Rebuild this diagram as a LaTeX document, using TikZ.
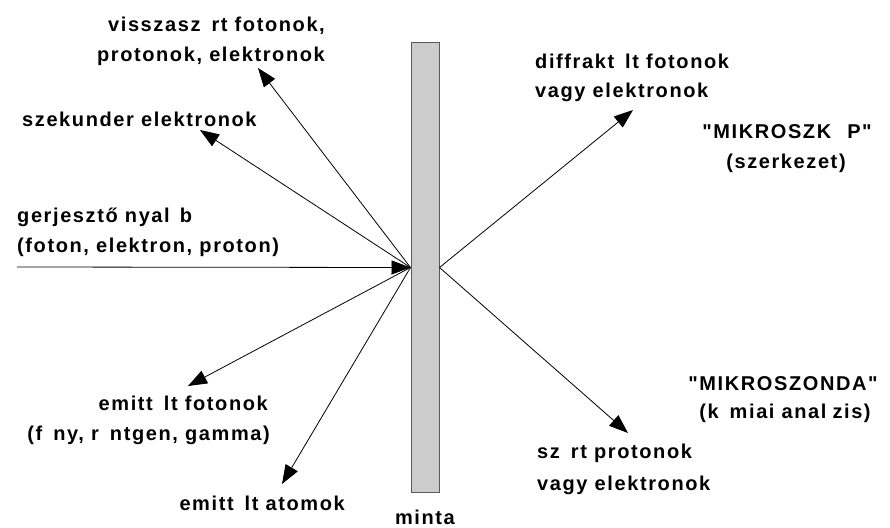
\documentclass[tikz,border=0pt]{standalone}
\usepackage{fontspec}
\setmainfont{Liberation Sans}[LetterSpace=8,Ligatures=TeXOff]
\usetikzlibrary{arrows.meta}
\definecolor{samplefill}{RGB}{204,204,204}
\definecolor{sampleedge}{RGB}{90,90,90}
\begin{document}
\begin{tikzpicture}[x=1pt,y=-1pt,
  lbl/.style={inner sep=0pt,font=\fontsize{20}{23}\selectfont\bfseries},
  ray/.style={line width=0.8pt,-{Triangle[length=19pt,width=14pt]}}]
\useasboundingbox (0,0) rectangle (890,527);
% sample
\node[draw=sampleedge,fill=samplefill,line width=1pt,minimum width=28pt,minimum height=449pt,inner sep=0pt] (sample) at (425,267.5) {};
\coordinate (src) at (17,267);
\coordinate (tA) at (258,68);
\coordinate (tB) at (200,130);
\coordinate (tC) at (188,386);
\coordinate (tD) at (282,484);
\coordinate (tE) at (633,110);
\coordinate (tF) at (628,433);
% rays
\draw[ray] (src) -- (sample.west);
\draw[ray] (sample.west) -- (tA);
\draw[ray] (sample.west) -- (tB);
\draw[ray] (sample.west) -- (tC);
\draw[ray] (sample.west) -- (tD);
\draw[ray] (sample.east) -- (tE);
\draw[ray] (sample.east) -- (tF);
% labels
\node[lbl,anchor=base east] (a1) at (325,32) {visszasz\hspace{0.55em}rt fotonok,};
\node[lbl,anchor=base east] (a2) at (325,62) {protonok, elektronok};
\node[lbl,anchor=base west] (b1) at (22,126) {szekunder elektronok};
\node[lbl,anchor=base west] (c1) at (17,222) {gerjesztő nyal\hspace{0.5em}b};
\node[lbl,anchor=base west] (c2) at (17,252) {(foton, elektron, proton)};
\node[lbl,anchor=base east] (d1) at (268,410) {emitt\hspace{0.55em}lt fotonok};
\node[lbl,anchor=base east] (d2) at (270,440) {(f\hspace{0.55em}ny, r\hspace{0.55em}ntgen, gamma)};
\node[lbl,anchor=base east] (e1) at (345,510) {emitt\hspace{0.55em}lt atomok};
\node[lbl,anchor=base] (m1) at (425,524) {minta};
\node[lbl,anchor=base west] (f1) at (535,68) {diffrakt\hspace{0.55em}lt fotonok};
\node[lbl,anchor=base west] (f2) at (535,97) {vagy elektronok};
\node[lbl,anchor=base] (g1) at (787,138) {"MIKROSZK\hspace{0.8em}P"};
\node[lbl,anchor=base] (g2) at (786,168) {(szerkezet)};
\node[lbl,anchor=base] (h1) at (783,390) {"MIKROSZONDA"};
\node[lbl,anchor=base] (h2) at (785,418) {(k\hspace{0.55em}miai anal\hspace{0.3em}zis)};
\node[lbl,anchor=base west] (i1) at (537,458) {sz\hspace{0.55em}rt protonok};
\node[lbl,anchor=base west] (i2) at (537,490) {vagy elektronok};
\end{tikzpicture}
\end{document}
